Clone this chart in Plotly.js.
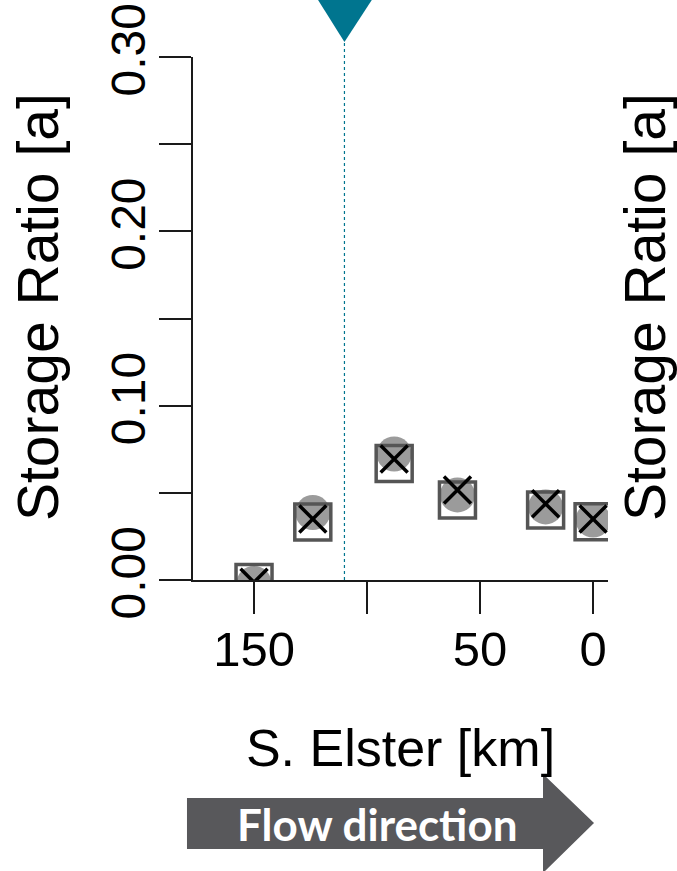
<!DOCTYPE html>
<html>
<head>
<meta charset="utf-8">
<script src="https://cdn.plot.ly/plotly-3.0.1.min.js"></script>
<style>html,body{margin:0;padding:0;background:#fff;}#chart{width:677px;height:871px;}</style>
</head>
<body>
<div id="chart"></div>
<script>
// ---- data ----
const kmPos      = [150, 124, 88, 60, 21, 0];
const circleVals = [-0.002, 0.0387, 0.0723, 0.0488, 0.0419, 0.0344];
const squareVals = [-0.0014, 0.0333, 0.0668, 0.0459, 0.0402, 0.0334];
const crossVals  = [-0.0013, 0.0350, 0.0694, 0.0516, 0.0437, 0.0350];
const gaugeKm    = [110];
const xTickVals  = [150, 100, 50, 0];
const xTickText  = ['150', '', '50', '0'];
const yTickVals  = [0, 0.05, 0.10, 0.15, 0.20, 0.25, 0.30];
const yTickText  = ['0.00', '', '0.10', '', '0.20', '', '0.30'];
const yTitle     = 'Storage Ratio [a]';
const xTitle     = 'S. Elster [km]';
const arrowText  = 'Flow direction';

// ---- layout geometry (pixels) ----
const W = 677, H = 871;
const L = 193, R = 608, T = 57, B = 580;
const pw = R - L, ph = B - T;
const px2x = p => (p - L) / pw;
const py2y = p => (B - p) / ph;

const font = 'Liberation Sans, Arial, sans-serif';
const teal = '#00758F';

const traces = [
  { x: kmPos, y: circleVals, type: 'scatter', mode: 'markers', showlegend: false,
    marker: { symbol: 'circle', size: 35, color: '#9b9b9b', line: { width: 0 } } },
  { x: kmPos, y: squareVals, type: 'scatter', mode: 'markers', showlegend: false,
    marker: { symbol: 'square-open', size: 36, color: '#555555', line: { width: 3.5, color: '#555555' } } },
  { x: kmPos, y: crossVals, type: 'scatter', mode: 'markers', showlegend: false,
    marker: { symbol: 'x-thin-open', size: 27, color: '#000', line: { width: 3.5, color: '#000' } } }
];

// arrow path in paper coords
const arrowPts = [[187,798],[543,798],[543,774],[594,823],[543,873],[543,849],[187,849]];
const arrowPath = 'M ' + arrowPts.map(p => px2x(p[0]).toFixed(4) + ',' + py2y(p[1]).toFixed(4)).join(' L ') + ' Z';

const layout = {
  width: W, height: H,
  margin: { l: L, r: W - R, t: T, b: H - B, pad: 0 },
  paper_bgcolor: '#fff', plot_bgcolor: '#fff',
  showlegend: false,
  font: { family: font, color: '#000' },
  xaxis: {
    range: [177, -6.6], autorange: false,
    showgrid: false, zeroline: false,
    showline: true, linecolor: '#1a1a1a', linewidth: 2,
    ticks: 'outside', ticklen: 32, tickwidth: 2, tickcolor: '#1a1a1a',
    tickvals: xTickVals, ticktext: xTickText,
    tickfont: { family: font, size: 49, color: '#000' },
    ticklabelstandoff: -7,
    title: { text: xTitle, font: { family: font, size: 52, color: '#000' }, standoff: 55 }
  },
  yaxis: {
    range: [0, 0.30], autorange: false,
    showgrid: false, zeroline: false,
    showline: true, linecolor: '#1a1a1a', linewidth: 2,
    ticks: 'outside', ticklen: 32, tickwidth: 2, tickcolor: '#1a1a1a',
    tickvals: yTickVals, ticktext: yTickText, tickangle: -90,
    tickfont: { family: font, size: 48, color: '#000' },
    ticklabelstandoff: -5
  },
  shapes: [
    { type: 'line', xref: 'x', yref: 'paper', x0: gaugeKm[0], x1: gaugeKm[0], y0: 0, y1: py2y(42),
      line: { color: teal, width: 1.2, dash: 'dot' } },
    { type: 'path', xref: 'x', yref: 'paper', xsizemode: 'pixel', ysizemode: 'pixel',
      xanchor: gaugeKm[0], yanchor: 1,
      path: 'M -27,58 L 28,58 L 0,15 Z', fillcolor: teal, line: { width: 0 } },
    { type: 'path', xref: 'paper', yref: 'paper', path: arrowPath,
      fillcolor: '#58585b', line: { width: 0 } }
  ],
  annotations: [
    { text: yTitle, xref: 'paper', yref: 'paper', x: px2x(38), y: py2y(307),
      xanchor: 'center', yanchor: 'middle', textangle: -90, showarrow: false,
      font: { family: font, size: 57, color: '#000' } },
    { text: yTitle, xref: 'paper', yref: 'paper', x: px2x(645), y: py2y(307),
      xanchor: 'center', yanchor: 'middle', textangle: -90, showarrow: false,
      font: { family: font, size: 57, color: '#000' } },
    { text: '<b>' + arrowText + '</b>', xref: 'paper', yref: 'paper', x: px2x(377), y: py2y(824),
      xanchor: 'center', yanchor: 'middle', showarrow: false,
      font: { family: 'Lato, Open Sans, sans-serif', size: 44, color: '#fff' } }
  ]
};

Plotly.newPlot('chart', traces, layout, { displayModeBar: false, staticPlot: true });
</script>
</body>
</html>
